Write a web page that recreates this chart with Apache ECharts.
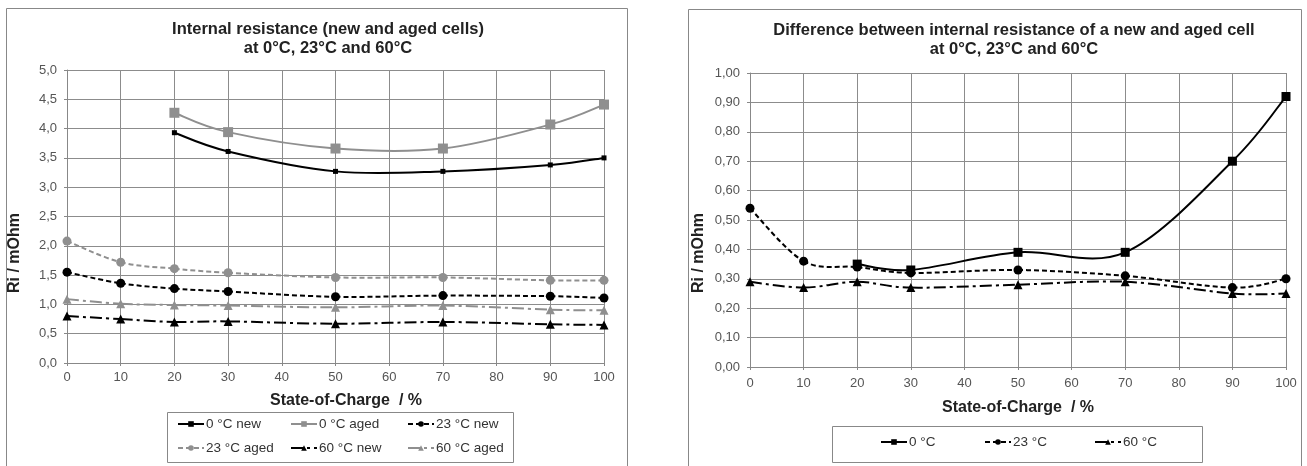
<!DOCTYPE html>
<html>
<head>
<meta charset="utf-8">
<script src="https://cdn.jsdelivr.net/npm/echarts@6/dist/echarts.min.js"></script>
<style>
html,body{margin:0;padding:0;background:#fff;}
#c{width:1307px;height:466px;}
</style>
</head>
<body>
<div id="c"></div>
<script>
// ---- data ----
const soc = [0, 10, 20, 30, 50, 70, 90, 100];
const xTicks = [0, 10, 20, 30, 40, 50, 60, 70, 80, 90, 100];
// left chart: internal resistance (mOhm)
const c0New   = [null, null, 3.93, 3.61, 3.27, 3.27, 3.38, 3.50];
const c0Aged  = [null, null, 4.27, 3.94, 3.66, 3.66, 4.07, 4.41];
const c23New  = [1.55, 1.36, 1.27, 1.22, 1.13, 1.15, 1.14, 1.11];
const c23Aged = [2.08, 1.72, 1.61, 1.54, 1.46, 1.46, 1.41, 1.41];
const c60New  = [0.80, 0.75, 0.70, 0.71, 0.67, 0.70, 0.66, 0.65];
const c60Aged = [1.09, 1.01, 0.99, 0.98, 0.95, 0.98, 0.91, 0.90];
// right chart: difference aged - new (mOhm)
const d0  = [null, null, 0.35, 0.33, 0.39, 0.39, 0.70, 0.92];
const d23 = [0.54, 0.36, 0.34, 0.32, 0.33, 0.31, 0.27, 0.30];
const d60 = [0.29, 0.27, 0.29, 0.27, 0.28, 0.29, 0.25, 0.25];

const leftNames = ['0 °C new', '0 °C aged', '23 °C new', '23 °C aged', '60 °C new', '60 °C aged'];
const rightNames = ['0 °C', '23 °C', '60 °C'];
const leftTitle = 'Internal resistance (new and aged cells)\nat 0°C, 23°C and 60°C';
const rightTitle = 'Difference between internal resistance of a new and aged cell\nat 0°C, 23°C and 60°C';
const xName = 'State-of-Charge  / %';
const yName = 'Ri / mOhm';

// ---- helpers ----
const FONT = 'Arial, "Liberation Sans", Helvetica, sans-serif';
const pairs = arr => soc.map((x, i) => [x, arr[i]]).filter(p => p[1] != null);
const BLACK = '#000000', GRAY = '#8f8f8f';
const DASH = [5, 3], DASHDOT = [12, 4, 3, 4];

// smooth curve (Excel-like Catmull-Rom) drawn through the axis scales
function curve(data, gi, color, dash) {
  const pts = pairs(data);
  return {
    type: 'custom', coordinateSystem: 'cartesian2d', xAxisIndex: gi, yAxisIndex: gi,
    data: pts, encode: { x: 0, y: 1 }, silent: true, animation: false, z: 1,
    renderItem: function (params, api) {
      const i = params.dataIndex;
      if (i >= pts.length - 1) return null;
      const c = k => api.coord(pts[Math.max(0, Math.min(pts.length - 1, k))]);
      const p0 = c(i - 1), p1 = c(i), p2 = c(i + 1), p3 = c(i + 2);
      return {
        type: 'bezierCurve',
        shape: {
          x1: p1[0], y1: p1[1], x2: p2[0], y2: p2[1],
          cpx1: p1[0] + (p2[0] - p0[0]) / 6, cpy1: p1[1] + (p2[1] - p0[1]) / 6,
          cpx2: p2[0] - (p3[0] - p1[0]) / 6, cpy2: p2[1] - (p3[1] - p1[1]) / 6
        },
        style: { stroke: color, lineWidth: 2, lineDash: dash === 'solid' ? null : dash, fill: 'none' }
      };
    }
  };
}
// markers (and legend entry) as a line series whose own line is hidden
function marks(name, data, gi, color, dash, symbol, size) {
  return {
    name: name, type: 'line', xAxisIndex: gi, yAxisIndex: gi,
    data: pairs(data), symbol: symbol, symbolSize: size, z: 3,
    itemStyle: { color: color, opacity: 1 },
    lineStyle: { color: color, width: 2, type: dash, opacity: 0 },
    emphasis: { disabled: true }, silent: true, animation: false
  };
}

const labelStyle = { color: '#555', fontFamily: FONT, fontSize: 13 };
function xAxis(gi) {
  return {
    type: 'value', gridIndex: gi, min: 0, max: 100, interval: 10,
    axisLine: { show: true, lineStyle: { color: '#888' } },
    axisTick: { show: true, length: 3, lineStyle: { color: '#888' } },
    axisLabel: Object.assign({ margin: gi === 0 ? 8 : 10 }, labelStyle),
    splitLine: { show: true, lineStyle: { color: '#8c8c8c', width: 1 } }
  };
}
function yAxis(gi, max, interval, dec) {
  return {
    type: 'value', gridIndex: gi, min: 0, max: max, interval: interval,
    axisLine: { show: true, lineStyle: { color: '#888' } },
    axisTick: { show: true, length: 3, lineStyle: { color: '#888' } },
    axisLabel: Object.assign({ margin: 10, formatter: v => v.toFixed(dec).replace('.', ',') }, labelStyle),
    splitLine: { show: true, lineStyle: { color: '#8c8c8c', width: 1 } }
  };
}
function legendItem(name, x, y) {
  return {
    data: [name], left: x, top: y, orient: 'horizontal',
    itemWidth: 26, itemHeight: 7, itemGap: 0, padding: 0,
    lineStyle: { opacity: 1 },
    textStyle: { color: '#333', fontFamily: FONT, fontSize: 13.5, padding: [0, 0, 0, -3] },
    selectedMode: false
  };
}

const titleStyle = { color: '#222', fontFamily: FONT, fontSize: 16.5, fontWeight: 'bold', lineHeight: 19 };
const axisNameStyle = { fill: '#222', font: 'bold 16px ' + FONT };
const frame = (x, y, w, h, stroke) => ({ type: 'rect', shape: { x: x, y: y, width: w, height: h },
  style: { fill: null, stroke: stroke, lineWidth: 1 }, silent: true, z: 0 });
const label = (txt, x, y, rot) => ({ type: 'text', x: x, y: y, rotation: rot || 0,
  style: Object.assign({ text: txt, align: 'center', verticalAlign: 'middle' }, axisNameStyle), silent: true });

const chart = echarts.init(document.getElementById('c'), null, { renderer: 'canvas' });
chart.setOption({
  backgroundColor: '#fff',
  animation: false,
  title: [
    { text: leftTitle, left: 328, top: 20, textAlign: 'center', textStyle: titleStyle, padding: 0 },
    { text: rightTitle, left: 1014, top: 21, textAlign: 'center', textStyle: titleStyle, padding: 0 }
  ],
  grid: [
    { left: 67, right: 1307 - 604, top: 70, bottom: 466 - 363 },
    { left: 750, right: 1307 - 1286, top: 73, bottom: 466 - 367 }
  ],
  xAxis: [xAxis(0), xAxis(1)],
  yAxis: [yAxis(0, 5, 0.5, 1), yAxis(1, 1, 0.1, 2)],
  legend: [
    legendItem(leftNames[0], 177, 417),
    legendItem(leftNames[1], 290, 417),
    legendItem(leftNames[2], 407, 417),
    legendItem(leftNames[3], 177, 441),
    legendItem(leftNames[4], 290, 441),
    legendItem(leftNames[5], 407, 441),
    legendItem(rightNames[0], 880, 435),
    legendItem(rightNames[1], 984, 435),
    legendItem(rightNames[2], 1094, 435)
  ],
  series: [
    curve(c0Aged, 0, GRAY, 'solid'),
    curve(c23Aged, 0, GRAY, DASH),
    curve(c60Aged, 0, GRAY, DASHDOT),
    curve(c0New, 0, BLACK, 'solid'),
    curve(c23New, 0, BLACK, DASH),
    curve(c60New, 0, BLACK, DASHDOT),
    curve(d0, 1, BLACK, 'solid'),
    curve(d23, 1, BLACK, DASH),
    curve(d60, 1, BLACK, DASHDOT),
    marks(leftNames[0], c0New, 0, BLACK, 'solid', 'rect', 5),
    marks(leftNames[1], c0Aged, 0, GRAY, 'solid', 'rect', 10),
    marks(leftNames[2], c23New, 0, BLACK, DASH, 'circle', 9),
    marks(leftNames[3], c23Aged, 0, GRAY, DASH, 'circle', 9),
    marks(leftNames[4], c60New, 0, BLACK, DASHDOT, 'triangle', 9),
    marks(leftNames[5], c60Aged, 0, GRAY, DASHDOT, 'triangle', 9),
    marks(rightNames[0], d0, 1, BLACK, 'solid', 'rect', 9),
    marks(rightNames[1], d23, 1, BLACK, DASH, 'circle', 9),
    marks(rightNames[2], d60, 1, BLACK, DASHDOT, 'triangle', 9)
  ],
  graphic: [
    frame(6.5, 8.5, 621, 470, '#888'),
    frame(688.5, 9.5, 613, 470, '#888'),
    frame(167.5, 412.5, 346, 50, '#888'),
    frame(832.5, 426.5, 370, 36, '#888'),
    label(xName, 346, 401),
    label(xName, 1018, 408),
    label(yName, 15, 253, Math.PI / 2),
    label(yName, 699, 253, Math.PI / 2)
  ]
});
</script>
</body>
</html>
